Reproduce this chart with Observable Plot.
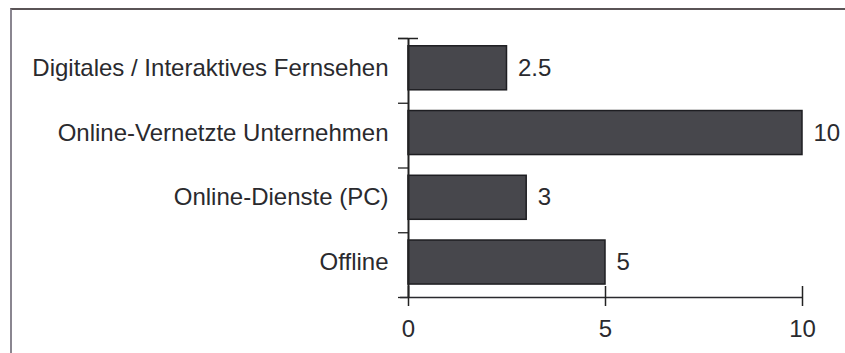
<!DOCTYPE html>
<html>
<head>
<meta charset="utf-8">
<script src="https://cdn.jsdelivr.net/npm/d3@7"></script>
<script src="https://cdn.jsdelivr.net/npm/@observablehq/plot@0.6"></script>
<style>
  html, body { margin: 0; padding: 0; background: #fff; }
  #wrap { position: relative; width: 845px; height: 353px; overflow: hidden; }
  #frame { position: absolute; left: 10px; top: 8px; right: -5px; bottom: -5px;
           border-top: 2px solid #5a5456; border-left: 2px solid #8a8690; pointer-events: none; }
  #chart { position: absolute; left: 0; top: 0; }
</style>
</head>
<body>
<div id="wrap"><div id="frame"></div><div id="chart"></div></div>
<script>
const categories = ["Digitales / Interaktives Fernsehen", "Online-Vernetzte Unternehmen", "Online-Dienste (PC)", "Offline"];
const values = [2.5, 10, 3, 5];
const valueLabels = ["2.5", "10", "3", "5"];
const xTicks = [0, 5, 10];
const bandEdges = [0, 1, 2, 3, 4];

const data = categories.map((c, i) => ({category: c, value: values[i], label: valueLabels[i], idx: i}));
const labelPos = categories.map((_, i) => i + 0.46);

const chart = Plot.plot({
  width: 845,
  height: 353,
  marginLeft: 408,
  marginRight: 43,
  marginTop: 38,
  marginBottom: 56,
  style: {fontFamily: "'Liberation Sans', Arial, sans-serif", fontSize: "24px", color: "#2a2a2e", background: "transparent"},
  x: {domain: [0, 10], axis: null, label: null},
  y: {domain: [0, 4], reverse: true, axis: null, label: null},
  marks: [
    Plot.rectX(data, {x1: 0, x2: "value", y1: d => d.idx + 0.12, y2: d => d.idx + 0.8,
      fill: "#47474c", stroke: "#1e1e22", strokeWidth: 1.5}),
    Plot.text(data, {x: "value", y: d => d.idx + 0.46, text: "label", textAnchor: "start", dx: 11,
      fontSize: 24, fill: "#2a2a2e"}),
    // y axis: category labels
    Plot.axisY({ticks: labelPos, tickFormat: d => categories[Math.round(d - 0.46)], tickSize: 0,
      tickPadding: 20, fontSize: 24, fill: "#2a2a2e", label: null}),
    // y axis: band edge ticks
    Plot.axisY({ticks: bandEdges, tickFormat: () => "", tickSize: 10, stroke: "#222", strokeWidth: 1.3, label: null}),
    Plot.ruleX([0], {stroke: "#222", strokeWidth: 2}),
    Plot.ruleY([0], {stroke: "#222", strokeWidth: 1.5, insetLeft: -10, insetRight: 384}),
    // x axis
    Plot.ruleY([4], {stroke: "#2a2a2e", strokeWidth: 1.5, insetLeft: -8}),
    Plot.axisX({ticks: xTicks, tickSize: 20, dy: -11, tickPadding: 13, tickFormat: d => String(d),
      stroke: "#222", strokeWidth: 1.5, fontSize: 24, fill: "#2a2a2e", label: null})
  ]
});
document.getElementById("chart").appendChild(chart);
</script>
</body>
</html>
